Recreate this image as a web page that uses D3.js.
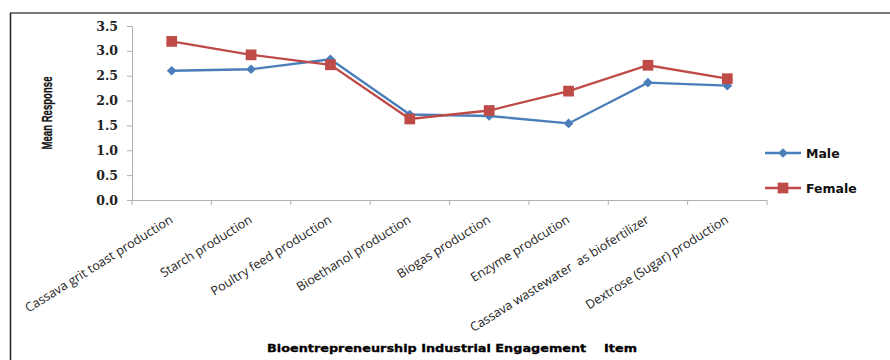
<!DOCTYPE html>
<html><head><meta charset="utf-8">
<script src="https://cdn.jsdelivr.net/npm/d3@7/dist/d3.min.js"></script>
<style>body{margin:0;background:#fff}svg{display:block}</style>
</head><body>
<svg id="c" width="890" height="360"></svg>
<script>
const categories = ["Cassava grit toast production","Starch production","Poultry feed production","Bioethanol production","Biogas production","Enzyme prodcution","Cassava wastewater  as biofertilizer","Dextrose (Sugar) production"];
const maleValues = [2.60, 2.63, 2.83, 1.72, 1.69, 1.54, 2.36, 2.30];
const femaleValues = [3.19, 2.92, 2.72, 1.63, 1.80, 2.19, 2.71, 2.44];
const yTicks = [0, 0.5, 1.0, 1.5, 2.0, 2.5, 3.0, 3.5];
const seriesNames = ["Male", "Female"];

const svg = d3.select("#c");
// frame
svg.append("line").attr("x1",10).attr("x2",890).attr("y1",13).attr("y2",13).attr("stroke","#4d4d4d").attr("stroke-width",1.5);
svg.append("line").attr("x1",10.5).attr("x2",10.5).attr("y1",13).attr("y2",360).attr("stroke","#222").attr("stroke-width",1.5);

const x = d3.scaleBand().domain(categories).range([132, 767]);
const y = d3.scaleLinear().domain([0, 3.5]).range([200, 26]);

// y axis
const yAxis = d3.axisLeft(y).tickValues(yTicks).tickFormat(d3.format(".1f")).tickSize(5).tickPadding(9);
const gy = svg.append("g").attr("transform","translate(132,0)").call(yAxis);
gy.select(".domain").attr("stroke","#b0b0b0");
gy.selectAll(".tick line").attr("stroke","#b0b0b0");
gy.selectAll("text").attr("font-family","'DejaVu Serif', serif").attr("font-weight","bold").attr("font-size","12.5px").attr("fill","#222");

// x axis
const gx = svg.append("g").attr("transform","translate(0,200)");
gx.append("line").attr("x1",132).attr("x2",767).attr("y1",0.5).attr("y2",0.5).attr("stroke","#b0b0b0");
const bounds = categories.map(c => x(c)).concat([x.range()[1]]);
gx.selectAll("line.tk").data(bounds).enter().append("line").attr("class","tk")
  .attr("x1",d=>d).attr("x2",d=>d).attr("y1",0).attr("y2",5).attr("stroke","#b0b0b0");
gx.selectAll("text.lbl").data(categories).enter().append("text").attr("class","lbl")
  .attr("transform", d => `translate(${x(d)+x.bandwidth()/2+2},${22}) rotate(-32)`)
  .attr("text-anchor","end")
  .attr("font-family","'Open Sans', sans-serif").attr("font-size","12.6px").attr("fill","#222")
  .attr("xml:space","preserve")
  .text(d=>d);

// y title
svg.append("text").attr("transform","translate(52,113) rotate(-90)").attr("text-anchor","middle")
  .attr("textLength",73).attr("lengthAdjust","spacingAndGlyphs")
  .attr("font-family","'Liberation Sans Narrow','Arial Narrow',sans-serif").attr("font-weight","bold").attr("font-size","15px")
  .attr("fill","#111").attr("stroke","#111").attr("stroke-width",0.3).text("Mean Response");
// x title
svg.append("text").attr("x",267).attr("y",352).attr("textLength",370).attr("lengthAdjust","spacingAndGlyphs")
  .attr("font-family","'DejaVu Sans',sans-serif").attr("font-weight","bold").attr("font-size","11px")
  .attr("fill","#000").attr("stroke","#000").attr("stroke-width",0.3)
  .attr("xml:space","preserve").text("Bioentrepreneurship Industrial Engagement    Item");

const blue = "#4a7ebb", red = "#be4b48";
const line = d3.line().x((d,i)=>x(categories[i])+x.bandwidth()/2).y(d=>y(d));
svg.append("path").datum(maleValues).attr("d",line).attr("fill","none").attr("stroke",blue).attr("stroke-width",2.3);
svg.append("path").datum(femaleValues).attr("d",line).attr("fill","none").attr("stroke",red).attr("stroke-width",2.3);

const diamond = d3.symbol().type(d3.symbolDiamond2).size(60);
const square = d3.symbol().type(d3.symbolSquare).size(115);
svg.selectAll("path.m").data(maleValues).enter().append("path").attr("class","m")
  .attr("d",diamond).attr("fill",blue)
  .attr("transform",(d,i)=>`translate(${x(categories[i])+x.bandwidth()/2},${y(d)})`);
svg.selectAll("path.f").data(femaleValues).enter().append("path").attr("class","f")
  .attr("d",square).attr("fill",red)
  .attr("transform",(d,i)=>`translate(${x(categories[i])+x.bandwidth()/2},${y(d)})`);

// legend
const leg = [{name:seriesNames[0],c:blue,sym:diamond,y:153},{name:seriesNames[1],c:red,sym:square,y:188}];
const lg = svg.selectAll("g.leg").data(leg).enter().append("g").attr("class","leg");
lg.append("line").attr("x1",765).attr("x2",801).attr("y1",d=>d.y).attr("y2",d=>d.y).attr("stroke",d=>d.c).attr("stroke-width",2.3);
lg.append("path").attr("d",d=>d.sym()).attr("fill",d=>d.c).attr("transform",d=>`translate(783,${d.y})`);
lg.append("text").attr("x",806).attr("y",d=>d.y+4.5).attr("font-family","'DejaVu Sans',sans-serif").attr("font-weight","bold")
  .attr("font-size","12.5px").attr("fill","#111").text(d=>d.name);
</script>
</body></html>
